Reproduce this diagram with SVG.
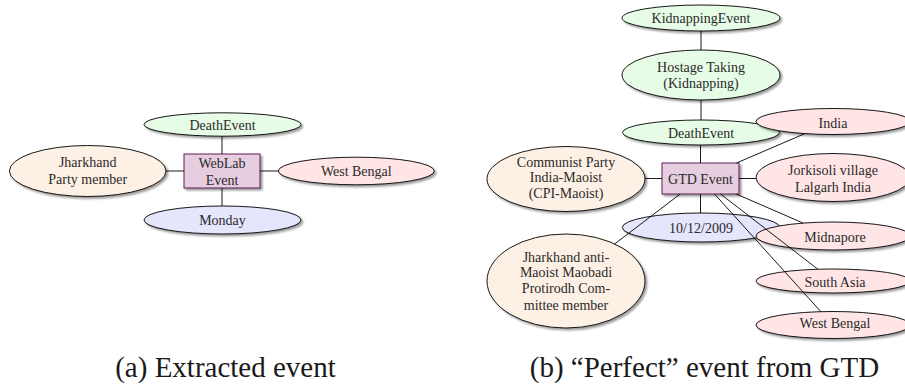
<svg xmlns="http://www.w3.org/2000/svg" width="905" height="386" viewBox="0 0 905 386">
<defs>
<filter id="sh" x="-20%" y="-40%" width="140%" height="180%">
<feGaussianBlur in="SourceAlpha" stdDeviation="1.2"/>
<feOffset dx="1.6" dy="2" result="b"/>
<feFlood flood-color="#000" flood-opacity="0.4"/>
<feComposite in2="b" operator="in"/>
<feMerge><feMergeNode/><feMergeNode in="SourceGraphic"/></feMerge>
</filter>
</defs>
<style>
.n{stroke:#000;stroke-width:0.9;filter:url(#sh)}
.g{fill:#e6fce6}
.o{fill:#fdf0e4}
.r{fill:#ffe5e5}
.b{fill:#e5e5fc}
.box{fill:#e6cde0;stroke:#5c1e56;stroke-width:1;filter:url(#sh)}
text{font-size:14px;fill:#2a2a2a;text-anchor:middle}
.cap{font-size:29px;fill:#1a1a1a}
.e line{stroke:#000;stroke-width:0.9}
</style>
<g font-family="'Liberation Serif', 'DejaVu Serif', 'Noto Serif', 'Times New Roman', Times, serif">
<!-- (a) Extracted event -->
<g id="a-death"><ellipse class="n g" cx="222.5" cy="124.5" rx="78.5" ry="11.7"/><text x="222.5" y="129.5">DeathEvent</text></g>
<g id="a-jharkhand"><ellipse class="n o" cx="87.7" cy="171" rx="78.3" ry="25.5"/><text x="87.7" y="167.3">Jharkhand</text><text x="87.7" y="184.3">Party member</text></g>
<g id="a-event"><rect class="box" x="184" y="154" width="76" height="34"/><text x="222" y="168.3">WebLab</text><text x="222" y="185">Event</text></g>
<g id="a-westbengal"><ellipse class="n r" cx="356.3" cy="171" rx="78" ry="13.8"/><text x="356.3" y="176">West Bengal</text></g>
<g id="a-monday"><ellipse class="n b" cx="222.5" cy="220" rx="78.5" ry="14"/><text x="222.5" y="225">Monday</text></g>

<g id="a-edges" class="e">
<line x1="222" y1="136.2" x2="222" y2="154"/>
<line x1="222" y1="188" x2="222" y2="206"/>
<line x1="166" y1="171" x2="184" y2="171"/>
<line x1="260" y1="171" x2="278.3" y2="171"/>
</g>

<!-- (b) Perfect event from GTD -->
<g id="b-kidnapping"><ellipse class="n g" cx="701" cy="18" rx="79" ry="13"/><text x="701" y="23">KidnappingEvent</text></g>
<g id="b-hostage"><ellipse class="n g" cx="701" cy="75" rx="79" ry="25"/><text x="701" y="71.7">Hostage Taking</text><text x="701" y="87.7">(Kidnapping)</text></g>
<g id="b-death"><ellipse class="n g" cx="701" cy="132.5" rx="78.5" ry="12.5"/><text x="701" y="137.5">DeathEvent</text></g>
<g id="b-india"><ellipse class="n r" cx="833" cy="121.5" rx="77" ry="13"/><text x="833" y="128">India</text></g>
<g id="b-communist"><ellipse class="n o" cx="566" cy="179" rx="79" ry="32.5"/><text x="566" y="166.7">Communist Party</text><text x="566" y="182.3">India-Maoist</text><text x="566" y="198.3">(CPI-Maoist)</text></g>
<g id="b-event"><rect class="box" x="662" y="163" width="77" height="31"/><text x="700.5" y="184.3">GTD Event</text></g>
<g id="b-jorkisoli"><ellipse class="n r" cx="833" cy="177.5" rx="77" ry="24"/><text x="833" y="175">Jorkisoli village</text><text x="833" y="191.7">Lalgarh India</text></g>
<g id="b-date"><ellipse class="n b" cx="701" cy="227.5" rx="78.7" ry="14.5"/><text x="701" y="232.5">10/12/2009</text></g>
<g id="b-midnapore"><ellipse class="n r" cx="833" cy="236" rx="77" ry="14"/><text x="835" y="241.5">Midnapore</text></g>
<g id="b-southasia"><ellipse class="n r" cx="833" cy="281" rx="77" ry="12"/><text x="835" y="286.5">South Asia</text></g>
<g id="b-westbengal"><ellipse class="n r" cx="833" cy="325" rx="77" ry="13.5"/><text x="835" y="327.5">West Bengal</text></g>
<g id="b-jharkhand"><ellipse class="n o" cx="566" cy="281" rx="79" ry="47"/><text x="566" y="261.7">Jharkhand anti-</text><text x="566" y="276.7">Maoist Maobadi</text><text x="566" y="293.3">Protirodh Com-</text><text x="566" y="310">mittee member</text></g>

<g id="b-edges" class="e">
<line x1="701" y1="31" x2="701" y2="50"/>
<line x1="701" y1="100" x2="701" y2="120"/>
<line x1="700.5" y1="145" x2="700.5" y2="163"/>
<line x1="645" y1="178.5" x2="662" y2="178.5"/>
<line x1="739" y1="178.5" x2="756" y2="178.5"/>
<line x1="700.5" y1="194" x2="700.5" y2="213"/>
<line x1="736.5" y1="163" x2="804.9" y2="133.6"/>
<line x1="736.2" y1="194" x2="803.2" y2="223.1"/>
<line x1="720.5" y1="194" x2="817.8" y2="269.2"/>
<line x1="714.5" y1="194" x2="820.9" y2="311.7"/>
<line x1="680.2" y1="194" x2="614.6" y2="244"/>
</g>

<g id="captions">
<text class="cap" x="225.5" y="377">(a) Extracted event</text>
<text class="cap" x="704.5" y="377">(b) “Perfect” event from GTD</text>
</g>
</g>
</svg>
